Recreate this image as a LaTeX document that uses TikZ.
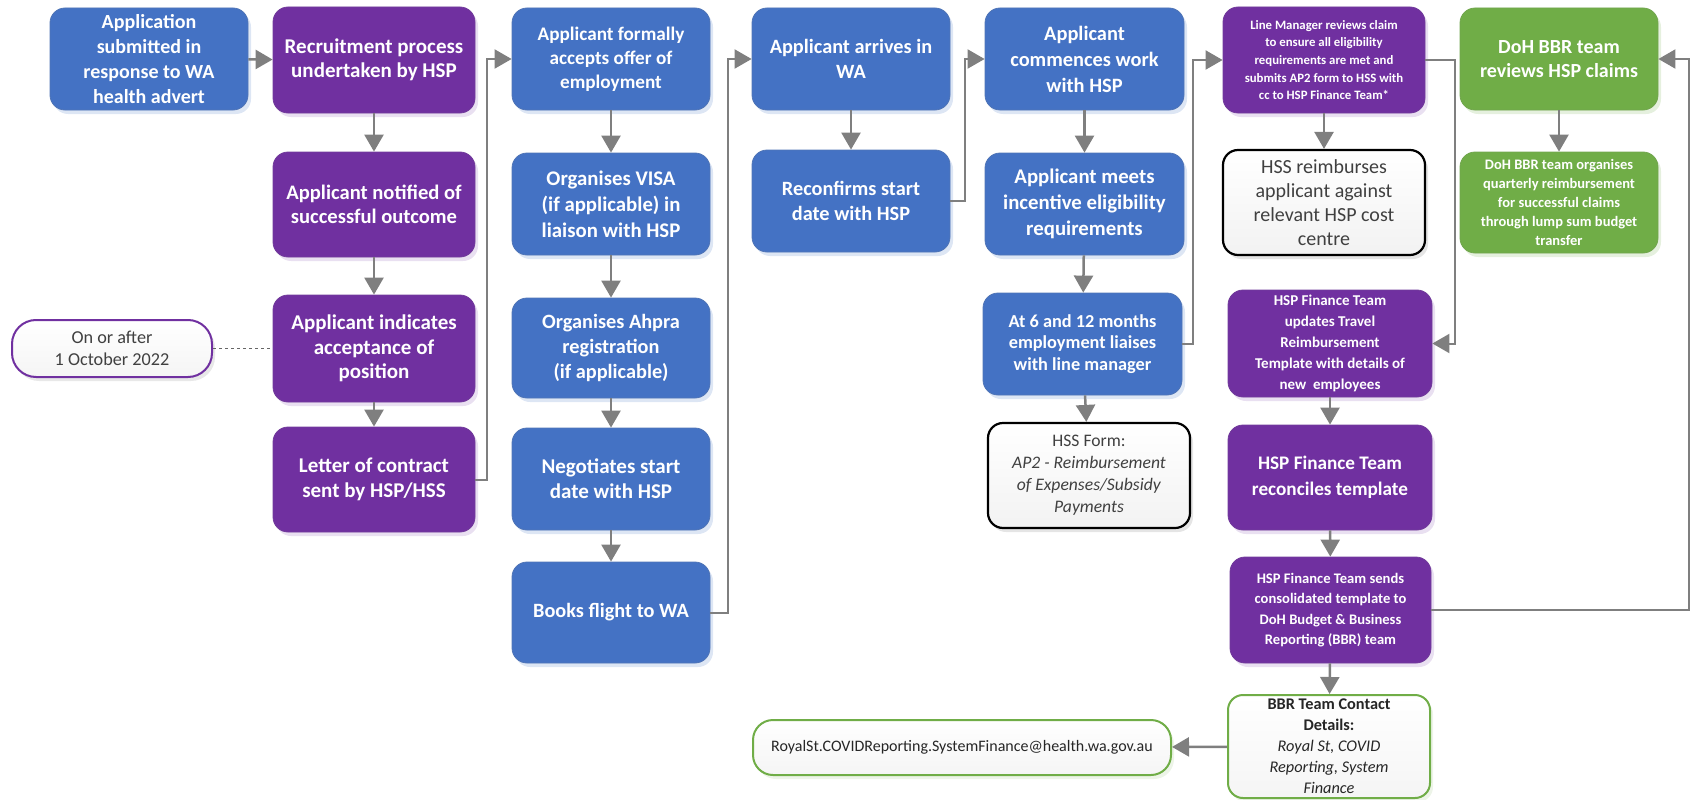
\documentclass[tikz,border=0pt]{standalone}
\usepackage{fontspec}
\setmainfont{Carlito}
\usetikzlibrary{arrows.meta,shadows}
\definecolor{cblue}{HTML}{4472C4}
\definecolor{cpurple}{HTML}{7030A0}
\definecolor{cgreen}{HTML}{70AD47}
\definecolor{cgray}{HTML}{7F7F7F}
\definecolor{ctext}{HTML}{404040}
\newcommand{\fsz}[2]{\fontsize{#1}{#2}\selectfont}
\tikzset{
  base/.style={rounded corners=15pt, align=center, inner sep=0pt},
  sz/.style 2 args={minimum width=#1pt, minimum height=#2pt},
  bluebox/.style={base, fill=cblue, draw=cblue!80!gray, line width=0.8pt, text=white,
    drop shadow={fill=cblue!30, opacity=0.6, shadow xshift=3pt, shadow yshift=-4pt}},
  purplebox/.style={base, fill=cpurple, draw=cpurple!85!gray, line width=0.8pt, text=white,
    drop shadow={fill=cpurple!25, opacity=0.6, shadow xshift=3pt, shadow yshift=-4pt}},
  greenbox/.style={base, fill=cgreen, draw=cgreen!85!gray, line width=0.8pt, text=white,
    drop shadow={fill=cgreen!30, opacity=0.6, shadow xshift=3pt, shadow yshift=-4pt}},
  whitebox/.style={base, draw=black, line width=2.2pt, top color=white, bottom color=gray!10, text=ctext,
    drop shadow={fill=gray!40, opacity=0.5, shadow xshift=3pt, shadow yshift=-4pt}},
  gwhitebox/.style={base, draw=cgreen, line width=2pt, top color=white, bottom color=gray!8, text=black!85,
    drop shadow={fill=cgreen!25, opacity=0.5, shadow xshift=3pt, shadow yshift=-4pt}},
  pwhitebox/.style={base, rounded corners=24pt, draw=cpurple, line width=2pt, top color=white, bottom color=gray!8, text=ctext,
    drop shadow={fill=gray!35, opacity=0.5, shadow xshift=3pt, shadow yshift=-4pt}},
  arr/.style={draw=cgray, line width=2.5pt, -{Triangle[length=17pt,width=19pt]}},
  elbow/.style={draw=cgray, line width=2pt, -{Triangle[length=17pt,width=19pt]}},
}
\begin{document}
\begin{tikzpicture}[x=1pt,y=-1pt]
\useasboundingbox (0,0) rectangle (1692,800);
% column 1
\node[bluebox, font=\fsz{20}{25}\bfseries, sz={198}{102}] (n1) at (149,59) {Application\\submitted in\\response to WA\\health advert};
% column 2
\node[purplebox, font=\fsz{21}{24.5}\bfseries, sz={202}{106}] (n2) at (374,60) {Recruitment process\\undertaken by HSP};
\node[purplebox, font=\fsz{20.6}{24.5}\bfseries, sz={202}{105}] (n3) at (374,204.5) {Applicant notified of\\successful outcome};
\node[purplebox, font=\fsz{21}{24.5}\bfseries, sz={202}{107}] (n4) at (374,348.5) {Applicant indicates\\acceptance of\\position};
\node[purplebox, font=\fsz{21}{24.5}\bfseries, sz={202}{105}] (n5) at (374,479.5) {Letter of contract\\sent by HSP/HSS};
\node[pwhitebox, font=\fsz{18.2}{21.5}, sz={200}{57}] (on) at (112,348.5) {On or after\\1 October 2022};
% column 3
\node[bluebox, font=\fsz{19.2}{24}\bfseries, sz={198}{102}] (n6) at (611,59) {Applicant formally\\accepts offer of\\employment};
\node[bluebox, font=\fsz{20.8}{26}\bfseries, sz={198}{102}] (n7) at (611,204) {Organises VISA\\(if applicable) in\\liaison with HSP};
\node[bluebox, font=\fsz{20.3}{25}\bfseries, sz={198}{100}] (n8) at (611,348) {Organises Ahpra\\registration\\(if applicable)};
\node[bluebox, font=\fsz{21}{25}\bfseries, sz={198}{102}] (n9) at (611,479) {Negotiates start\\date with HSP};
\node[bluebox, font=\fsz{20.3}{25}\bfseries, sz={198}{101}] (n10) at (611,612.5) {Books flight to WA};
% column 4
\node[bluebox, font=\fsz{20.3}{24.5}\bfseries, sz={198}{102}] (n11) at (851,59) {Applicant arrives in\\WA};
\node[bluebox, font=\fsz{20.3}{25}\bfseries, sz={198}{102}] (n12) at (851,201) {Reconfirms start\\date with HSP};
% column 5
\node[bluebox, font=\fsz{20.4}{26}\bfseries, sz={199}{102}] (n13) at (1084.5,59) {Applicant\\commences work\\with HSP};
\node[bluebox, font=\fsz{20.8}{26}\bfseries, sz={199}{102}] (n14) at (1084.5,204) {Applicant meets\\incentive eligibility\\requirements};
\node[bluebox, font=\fsz{18.3}{21.5}\bfseries, sz={199}{102}] (n15) at (1082.5,344) {At 6 and 12 months\\employment liaises\\with line manager};
\node[whitebox, font=\fsz{17.6}{22}, sz={202}{105}] (n16) at (1089,475.5) {HSS Form:\\\textit{AP2 - Reimbursement}\\\textit{of Expenses/Subsidy}\\\textit{Payments}};
% column 6
\node[purplebox, font=\fsz{12.8}{17.7}\bfseries, sz={202}{106}] (n17) at (1324,60) {Line Manager reviews claim\\to ensure all eligibility\\requirements are met and\\submits AP2 form to HSS with\\cc to HSP Finance Team*};
\node[whitebox, font=\fsz{20}{24}, sz={202}{105}] (n18) at (1324,202.5) {HSS reimburses\\applicant against\\relevant HSP cost\\centre};
\node[purplebox, font=\fsz{15}{21}\bfseries, sz={204}{107}] (n19) at (1330,343.5) {HSP Finance Team\\updates Travel\\Reimbursement\\Template with details of\\new\ \ employees};
\node[purplebox, font=\fsz{19.2}{26}\bfseries, sz={204}{105}] (n20) at (1330,477.5) {HSP Finance Team\\reconciles template};
\node[purplebox, font=\fsz{14.6}{20.5}\bfseries, sz={201}{106}] (n21) at (1330.5,610) {HSP Finance Team sends\\consolidated template to\\DoH Budget \& Business\\Reporting (BBR) team};
\node[gwhitebox, font=\fsz{16.3}{21}, sz={202}{103}] (n22) at (1329,746.5) {\textbf{BBR Team Contact}\\\textbf{Details:}\\\textit{Royal St, COVID}\\\textit{Reporting, System}\\\textit{Finance}};
\node[gwhitebox, rounded corners=20pt, font=\fsz{16}{18}, sz={418}{55}] (n23) at (962,747.5) {RoyalSt.COVIDReporting.SystemFinance@health.wa.gov.au};
% column 7
\node[greenbox, font=\fsz{20}{24}\bfseries, sz={198}{102}] (n24) at (1559,59) {DoH BBR team\\reviews HSP claims};
\node[greenbox, font=\fsz{14.5}{19}\bfseries, sz={198}{101}] (n25) at (1559,202.5) {DoH BBR team organises\\quarterly reimbursement\\for successful claims\\through lump sum budget\\transfer};
% connectors
\draw[arr] (n1) -- (n2);
\draw[arr] (n2) -- (n3);
\draw[arr] (n3) -- (n4);
\draw[arr] (n4) -- (n5);
\draw[dashed, draw=black!60, line width=1.3pt] (on.east) -- (n4.west);
\draw[elbow] (n5.east) -- ++(12,0) |- (n6.west);
\draw[arr] (n6) -- (n7);
\draw[arr] (n7) -- (n8);
\draw[arr] (n8) -- (n9);
\draw[arr] (n9) -- (n10);
\draw[elbow] (n10.east) -- ++(18,0) |- (n11.west);
\draw[arr] (n11) -- (n12);
\draw[elbow] (n12.east) -- ++(15,0) |- (n13.west);
\draw[arr] (n13) -- (n14);
\draw[arr] (n14) -- (n15);
\draw[arr] (n15) -- (n16);
\draw[elbow] (n15.east) -- ++(11,0) |- (n17.west);
\draw[arr] (n17) -- (n18);
\draw[elbow] (n17.east) -- ++(30,0) |- (n19.east);
\draw[arr] (n19) -- (n20);
\draw[arr] (n20) -- (n21);
\draw[arr] (n21) -- (n22);
\draw[arr] (n22) -- (n23);
\draw[elbow] (n21.east) -- ++(258,0) |- (n24.east);
\draw[arr] (n24) -- (n25);
\end{tikzpicture}
\end{document}
